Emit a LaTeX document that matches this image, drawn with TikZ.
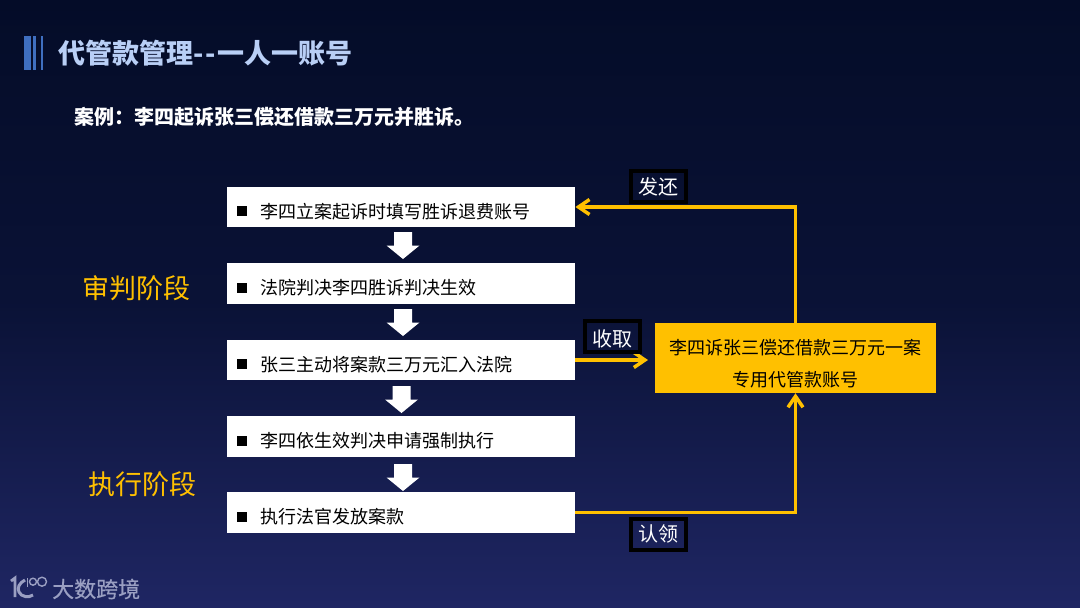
\documentclass[tikz,border=0pt]{standalone}
\usepackage{fontspec}
\setmainfont{Noto Sans CJK SC}
\usetikzlibrary{arrows.meta}
\definecolor{bgtop}{HTML}{040C28}
\definecolor{bgmid}{HTML}{0A1236}
\definecolor{bgbot}{HTML}{1F2663}
\definecolor{amber}{HTML}{FFC000}
\definecolor{titlec}{HTML}{B9CFF6}
\definecolor{barc}{HTML}{3F6FC0}
\definecolor{logoc}{HTML}{9A9FC2}
\tikzset{
  x=1pt,y=-1pt,
  stepbox/.style={fill=white,draw=none,minimum width=348pt,minimum height=40.5pt,inner sep=0pt,anchor=west,text=black,font=\fontsize{18pt}{22pt}\selectfont,align=left,text width=348pt},
  target/.style={fill=amber,draw=none,minimum width=281pt,minimum height=70pt,inner sep=0pt,text=black,font=\fontsize{18pt}{32pt}\selectfont,align=center},
  tag/.style={draw=black,line width=4pt,minimum width=55pt,minimum height=31pt,inner sep=0pt,text=white,font=\fontsize{20pt}{24pt}\selectfont},
  phase/.style={text=amber,font=\fontsize{27pt}{32pt}\selectfont,inner sep=0pt},
  link/.style={draw=amber,line width=3.5pt,-{Straight Barb[length=11pt,width=15pt,line width=3.5pt]}},
  blockarrow/.pic={\fill[white] (-9,0) -- (9,0) -- (9,13.5) -- (16.5,13.5) -- (0,27) -- (-16.5,13.5) -- (-9,13.5) -- cycle;},
  logostroke/.style={draw=logoc,fill=none}
}
\newcommand{\itemrow}[1]{\rule{0pt}{24pt}\hspace*{9.5pt}\raisebox{2pt}{\rule{10pt}{10pt}}\hspace*{13.5pt}#1}
\begin{document}
\begin{tikzpicture}
\useasboundingbox (0,0) rectangle (1080,608);
\shade[top color=bgtop,bottom color=bgmid,draw=none] (0,0) rectangle (1080,300);
\shade[top color=bgmid,bottom color=bgbot,draw=none] (0,300) rectangle (1080,608);
% title bars
\fill[barc] (24,36) rectangle (31,70);
\fill[barc] (33,36) rectangle (36,70);
\fill[barc] (41,36) rectangle (43,70);
\node[anchor=west,inner sep=0pt,text=titlec,font=\fontsize{27pt}{32pt}\selectfont\bfseries] (title) at (58,53) {代管款管理-\kern2pt-\kern2pt一人一账号};
\node[anchor=west,inner sep=0pt,text=white,font=\fontsize{20pt}{24pt}\selectfont\bfseries] (case) at (74,117) {案例：李四起诉张三偿还借款三万元并胜诉。};
% steps
\node[stepbox] (a) at (227,207) {\itemrow{李四立案起诉时填写胜诉退费账号}};
\node[stepbox] (b) at (227,283.5) {\itemrow{法院判决李四胜诉判决生效}};
\node[stepbox] (c) at (227,360) {\itemrow{张三主动将案款三万元汇入法院}};
\node[stepbox] (d) at (227,436.5) {\itemrow{李四依生效判决申请强制执行}};
\node[stepbox] (e) at (227,512.5) {\itemrow{执行法官发放案款}};
% block arrows
\pic at (403,232) {blockarrow};
\pic at (403,309) {blockarrow};
\pic at (401.5,386) {blockarrow};
\pic at (403,464) {blockarrow};
% phases
\node[phase] (p1) at (136.5,288) {审判阶段};
\node[phase] (p2) at (142.5,484) {执行阶段};
% account box
\node[target] (box) at (795.5,358) {\rule{0pt}{26pt}李四诉张三偿还借款三万元一案\\专用代管款账号};
\coordinate (recv) at (648,360);
% connectors
\path[link] (box.north) |- (a.east);
\path[link] (c.east) -- (recv);
\path[link] (e.east) -| (box.south);
% tags
\node[tag] (t1) at (658,186.5) {发还};
\node[tag] (t2) at (612.5,336) {\rule{0pt}{22pt}收取};
\node[tag] (t3) at (658,534) {认领};
% logo
\draw[logostroke,line width=2.8pt] (11,581) -- (15,578) -- (15,597);
\draw[logostroke,line width=3pt] (25,580) .. controls (19,583) and (17,588) .. (19,592) .. controls (21,597) and (29,598) .. (33,595);
\draw[logostroke,line width=1.4pt] (27.5,578) -- (27.5,587);
\draw[logostroke,line width=1.4pt] (33,581.7) circle[radius=3.5pt];
\draw[logostroke,line width=1.4pt] (42,581.7) circle[radius=4.5pt];
\node[anchor=west,inner sep=0pt,text=logoc,font=\fontsize{22pt}{24pt}\selectfont\addfontfeature{FakeBold=0.5}] (brand) at (52,589) {大数跨境};
\end{tikzpicture}
\end{document}
